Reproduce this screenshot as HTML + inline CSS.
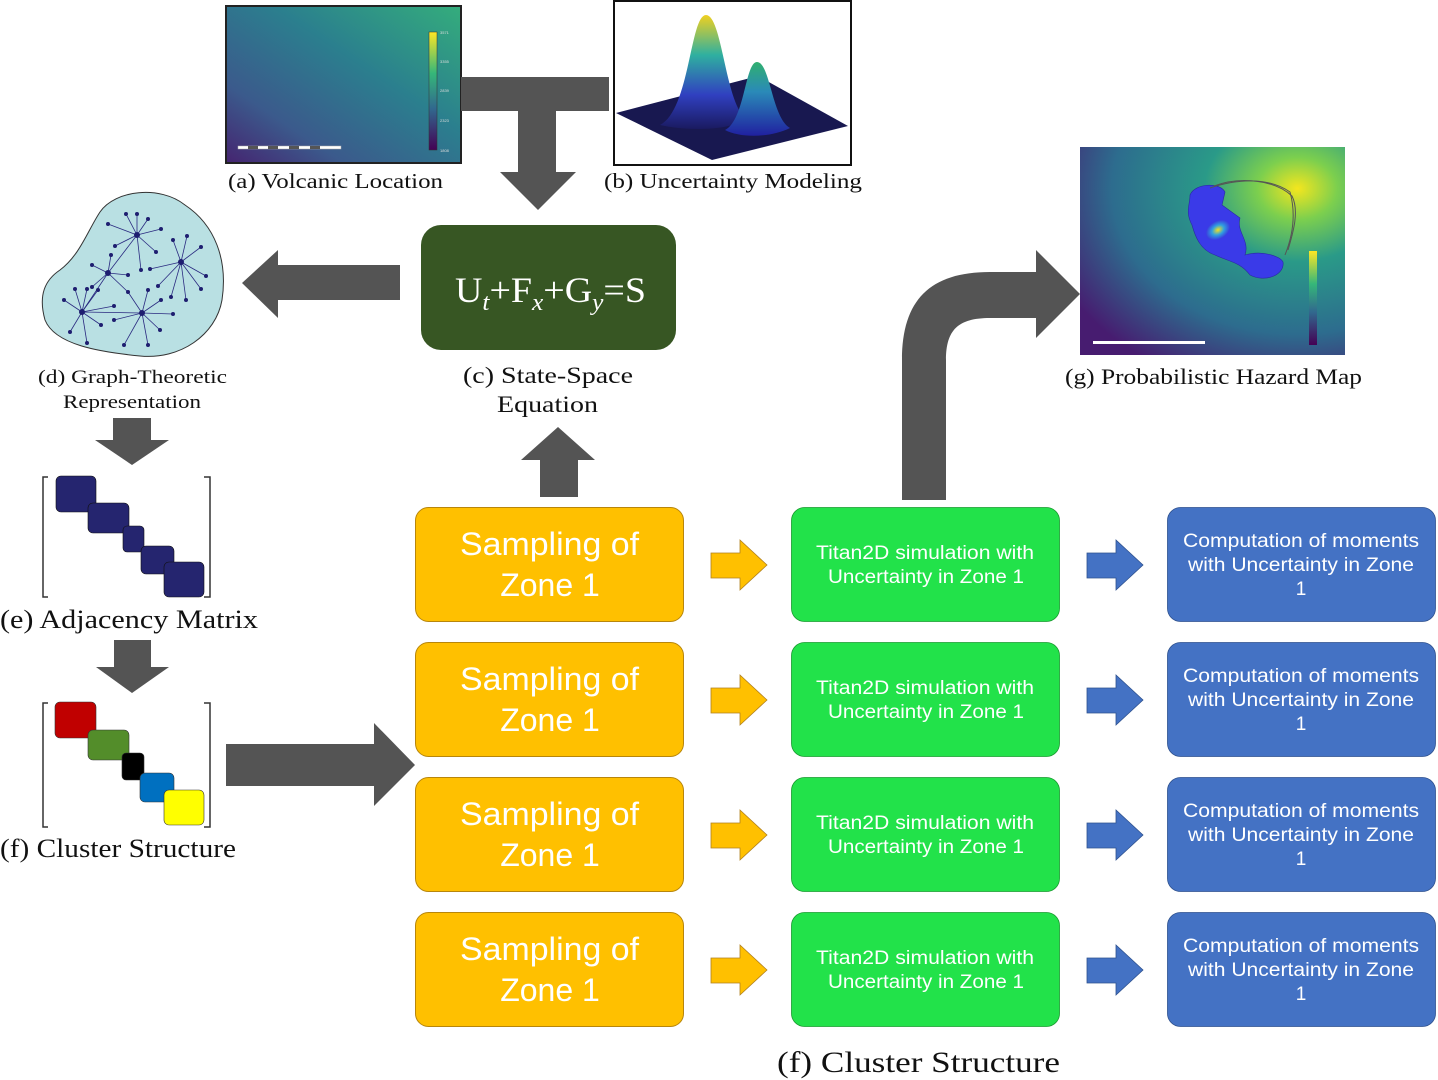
<!DOCTYPE html>
<html><head><meta charset="utf-8"><style>
html,body{margin:0;padding:0;background:#fff;width:1438px;height:1080px;overflow:hidden}
svg{display:block}
.cap{font-family:"Liberation Serif",serif;fill:#111}
.s{font-family:"Liberation Sans",sans-serif;fill:#fff}
</style></head><body>
<svg width="1438" height="1080" viewBox="0 0 1438 1080" xmlns="http://www.w3.org/2000/svg">
<defs>
<linearGradient id="ga" x1="0" y1="1" x2="1" y2="0">
<stop offset="0" stop-color="#452470"/><stop offset="0.25" stop-color="#3b5a8c"/><stop offset="0.6" stop-color="#2b7f8e"/><stop offset="1" stop-color="#34ad7c"/></linearGradient>
<linearGradient id="cb" x1="0" y1="0" x2="0" y2="1">
<stop offset="0" stop-color="#fde725"/><stop offset="0.35" stop-color="#35b779"/><stop offset="0.65" stop-color="#31688e"/><stop offset="1" stop-color="#440154"/></linearGradient>
<radialGradient id="gg" cx="0.82" cy="0.2" r="1">
<stop offset="0" stop-color="#f4e61e"/><stop offset="0.15" stop-color="#7ccf4e"/><stop offset="0.35" stop-color="#2a9a88"/><stop offset="0.7" stop-color="#2d6c8e"/><stop offset="1" stop-color="#471c70"/></radialGradient>
<linearGradient id="pk" x1="0" y1="0" x2="0" y2="1">
<stop offset="0" stop-color="#f0d020"/><stop offset="0.35" stop-color="#2fb0a0"/><stop offset="0.7" stop-color="#3040c0"/><stop offset="1" stop-color="#1a1a60"/></linearGradient>
<linearGradient id="pk2" x1="0" y1="0" x2="0" y2="1">
<stop offset="0" stop-color="#30b070"/><stop offset="0.4" stop-color="#2a8ab8"/><stop offset="1" stop-color="#2020a0"/></linearGradient>
<radialGradient id="hot" cx="0.5" cy="0.5" r="0.5">
<stop offset="0" stop-color="#f5e020"/><stop offset="0.5" stop-color="#30a0e0"/><stop offset="1" stop-color="#3a3ae0"/></radialGradient>
</defs>

<rect x="226" y="6" width="235" height="157" fill="url(#ga)" stroke="#222" stroke-width="2"/>
<rect x="429" y="32" width="8" height="118" fill="url(#cb)" stroke="#333" stroke-width="0.5"/>
<g fill="#ddd" font-size="4" font-family="Liberation Sans"><text x="440" y="34">3571</text><text x="440" y="63">3355</text><text x="440" y="92">2839</text><text x="440" y="122">2323</text><text x="440" y="152">1808</text></g>
<rect x="238" y="146" width="103" height="3" fill="#fff" stroke="#aaa" stroke-width="0.5"/>
<g fill="#555"><rect x="248" y="146" width="10" height="3"/><rect x="268" y="146" width="10" height="3"/><rect x="289" y="146" width="10" height="3"/><rect x="310" y="146" width="10" height="3"/></g>
<text class="cap" x="228" y="188" font-size="21" textLength="215" lengthAdjust="spacingAndGlyphs">(a) Volcanic Location</text>

<path d="M461 77 H609 V111 H556 V172 H576 L538 210 L500 172 H518 V111 H461 Z" fill="#545454"/>

<rect x="614" y="1" width="237" height="164" fill="#fff" stroke="#111" stroke-width="2"/>
<polygon points="616,113 712,160 848,126 758,76" fill="#181850"/>
<path d="M660 125 C690 110 690 15 706 15 C722 15 725 100 745 118 C735 130 690 132 660 125 Z" fill="url(#pk)"/>
<path d="M725 130 C745 120 745 62 757 62 C770 62 772 118 790 128 C770 138 740 138 725 130 Z" fill="url(#pk2)"/>
<text class="cap" x="604" y="188" font-size="21" textLength="258" lengthAdjust="spacingAndGlyphs">(b) Uncertainty Modeling</text>

<rect x="421" y="225" width="255" height="125" rx="20" fill="#375623"/>
<text x="455" y="302" font-size="36" fill="#fff" font-family="Liberation Serif,serif" textLength="191" lengthAdjust="spacingAndGlyphs">U<tspan font-style="italic" font-size="24" dy="8">t</tspan><tspan dy="-8">+F</tspan><tspan font-style="italic" font-size="24" dy="8">x</tspan><tspan dy="-8">+G</tspan><tspan font-style="italic" font-size="24" dy="8">y</tspan><tspan dy="-8">=S</tspan></text>
<text class="cap" x="463" y="383" font-size="23" textLength="170" lengthAdjust="spacingAndGlyphs">(c) State-Space</text>
<text class="cap" x="497" y="412" font-size="23" textLength="101" lengthAdjust="spacingAndGlyphs">Equation</text>

<path d="M400 265 V300 H278 V318 L242 283 L278 250 V265 Z" fill="#545454"/>

<path d="M100 212 C115 190 160 185 185 205 C215 225 228 260 222 300 C216 335 180 360 140 356 C100 352 55 345 45 320 C38 295 45 280 60 270 C80 255 88 230 100 212 Z" fill="#b9e0e3" stroke="#333" stroke-width="1"/>
<g stroke="#2a2a80" stroke-width="0.8" fill="none">
<path d="M137 235 L126 214 M137 235 L137 214 M137 235 L148 219 M137 235 L108 224 M137 235 L161 229 M137 235 L115 246 M137 235 L156 252 M137 235 L108 273 M137 235 L141 270"/>
<path d="M181 262 L173 240 M181 262 L187 236 M181 262 L201 247 M181 262 L206 276 M181 262 L201 289 M181 262 L186 300 M181 262 L171 297 M181 262 L150 269 M181 262 L158 286"/>
<path d="M108 273 L111 255 M108 273 L92 265 M108 273 L92 287 M108 273 L128 275 M108 273 L128 292 M108 273 L82 312"/>
<path d="M82 312 L75 289 M82 312 L87 289 M82 312 L64 300 M82 312 L98 290 M82 312 L70 332 M82 312 L87 343 M82 312 L101 325 M82 312 L114 306 M82 312 L142 313"/>
<path d="M142 313 L128 292 M142 313 L148 290 M142 313 L161 300 M142 313 L173 314 M142 313 L160 330 M142 313 L148 345 M142 313 L124 345 M142 313 L114 320"/>
</g>
<g fill="#1e1e70">
<circle cx="137" cy="235" r="3"/><circle cx="181" cy="262" r="3"/><circle cx="108" cy="273" r="3"/><circle cx="82" cy="312" r="3"/><circle cx="142" cy="313" r="3"/>
<circle cx="126" cy="214" r="2"/><circle cx="137" cy="214" r="2"/><circle cx="148" cy="219" r="2"/><circle cx="108" cy="224" r="2"/><circle cx="161" cy="229" r="2"/><circle cx="115" cy="246" r="2"/><circle cx="156" cy="252" r="2"/><circle cx="141" cy="270" r="2"/>
<circle cx="173" cy="240" r="2"/><circle cx="187" cy="236" r="2"/><circle cx="201" cy="247" r="2"/><circle cx="206" cy="276" r="2"/><circle cx="201" cy="289" r="2"/><circle cx="186" cy="300" r="2"/><circle cx="171" cy="297" r="2"/><circle cx="150" cy="269" r="2"/><circle cx="158" cy="286" r="2"/>
<circle cx="111" cy="255" r="2"/><circle cx="92" cy="265" r="2"/><circle cx="92" cy="287" r="2"/><circle cx="128" cy="275" r="2"/><circle cx="128" cy="292" r="2"/>
<circle cx="75" cy="289" r="2"/><circle cx="87" cy="289" r="2"/><circle cx="64" cy="300" r="2"/><circle cx="98" cy="290" r="2"/><circle cx="70" cy="332" r="2"/><circle cx="87" cy="343" r="2"/><circle cx="101" cy="325" r="2"/><circle cx="114" cy="306" r="2"/>
<circle cx="148" cy="290" r="2"/><circle cx="161" cy="300" r="2"/><circle cx="173" cy="314" r="2"/><circle cx="160" cy="330" r="2"/><circle cx="148" cy="345" r="2"/><circle cx="124" cy="345" r="2"/><circle cx="114" cy="320" r="2"/>
</g>
<text class="cap" x="38" y="383" font-size="19" textLength="189" lengthAdjust="spacingAndGlyphs">(d) Graph-Theoretic</text>
<text class="cap" x="63" y="408" font-size="19" textLength="138" lengthAdjust="spacingAndGlyphs">Representation</text>

<path d="M113 418 H151 V440 H169 L132 465 L95 440 H113 Z" fill="#545454"/>
<path d="M114 640 H151 V667 H169 L132 693 L96 667 H114 Z" fill="#545454"/>

<g fill="none" stroke="#333" stroke-width="1.5"><path d="M48 477 H43 V597 H48"/><path d="M204 477 H210 V597 H204"/><path d="M48 703 H43 V827 H48"/><path d="M204 703 H210 V827 H204"/></g>
<g fill="#25256f" stroke="#111" stroke-width="0.6">
<rect x="56" y="476" width="40" height="36" rx="5"/><rect x="88" y="503" width="41" height="30" rx="5"/><rect x="123" y="526" width="21" height="26" rx="4"/><rect x="141" y="546" width="33" height="28" rx="5"/><rect x="164" y="562" width="40" height="35" rx="5"/>
</g>
<text class="cap" x="0" y="628" font-size="26" textLength="258" lengthAdjust="spacingAndGlyphs">(e) Adjacency Matrix</text>

<g stroke="#333" stroke-width="0.6">
<rect x="55" y="702" width="41" height="36" rx="5" fill="#c00000"/>
<rect x="88" y="730" width="41" height="30" rx="5" fill="#538d2a"/>
<rect x="122" y="753" width="22" height="27" rx="4" fill="#000"/>
<rect x="140" y="773" width="34" height="29" rx="5" fill="#0070c0"/>
<rect x="164" y="790" width="40" height="35" rx="5" fill="#ffff00"/>
</g>
<text class="cap" x="0" y="857" font-size="26" textLength="236" lengthAdjust="spacingAndGlyphs">(f) Cluster Structure</text>

<path d="M226 744 H374 V723 L415 765 L374 806 V786 H226 Z" fill="#545454"/>
<path d="M540 497 V460 H521 L558 427 L595 460 H578 V497 Z" fill="#545454"/>
<path d="M902 500 V360 C902 300 930 272 990 272 H1036 V250 L1080 294 L1036 338 V318 H990 C958 318 946 330 946 360 V500 Z" fill="#545454"/>

<rect x="1080" y="147" width="265" height="208" fill="url(#gg)"/>
<g fill="#3a3ae8" stroke="#2a2aa0" stroke-width="0.6">
<path d="M1190 195 C1195 183 1220 182 1225 192 L1222 205 L1240 218 C1236 232 1250 240 1245 255 C1262 250 1280 256 1283 262 C1285 275 1265 283 1250 275 C1240 262 1230 262 1215 255 C1200 250 1195 236 1192 225 C1185 212 1190 205 1190 195 Z"/>
</g>
<ellipse cx="1218" cy="230" rx="13" ry="9" fill="url(#hot)" transform="rotate(-30 1218 230)"/>
<path d="M1210 188 C1240 178 1270 178 1290 192 C1295 210 1295 230 1285 255" fill="none" stroke="#555" stroke-width="1"/>
<path d="M1214 186 C1240 176 1275 180 1292 196 C1300 212 1292 236 1288 250" fill="none" stroke="#555" stroke-width="1"/>
<rect x="1309" y="251" width="8" height="94" fill="url(#cb)"/>
<rect x="1093" y="341" width="112" height="3" fill="#fff"/>
<text class="cap" x="1065" y="384" font-size="22" textLength="297" lengthAdjust="spacingAndGlyphs">(g) Probabilistic Hazard Map</text>

<g id="rows">
<rect x="415.5" y="507.5" width="268" height="114" rx="13" fill="#ffc000" stroke="#b8860b" stroke-width="1"/>
<text class="s" x="460" y="555" font-size="32" textLength="179" lengthAdjust="spacingAndGlyphs">Sampling of</text><text class="s" x="550" y="596" font-size="32" text-anchor="middle">Zone 1</text>
<path d="M711 553 H740 V540 L767 565 L740 590 V578 H711 Z" fill="#ffc000" stroke="#b08020" stroke-width="0.8"/>
<rect x="791.5" y="507.5" width="268" height="114" rx="13" fill="#22e24a" stroke="#1a9a30" stroke-width="0.8"/>
<text class="s" x="816" y="559" font-size="19" textLength="218" lengthAdjust="spacingAndGlyphs">Titan2D simulation with</text><text class="s" x="828" y="583" font-size="19" textLength="196" lengthAdjust="spacingAndGlyphs">Uncertainty in Zone 1</text>
<path d="M1087 553 H1116 V540 L1143 565 L1116 590 V578 H1087 Z" fill="#4472c4" stroke="#2f528f" stroke-width="0.8"/>
<rect x="1167.5" y="507.5" width="268" height="114" rx="13" fill="#4472c4" stroke="#2f528f" stroke-width="0.8"/>
<text class="s" x="1183" y="547" font-size="19" textLength="236" lengthAdjust="spacingAndGlyphs">Computation of moments</text><text class="s" x="1188" y="571" font-size="19" textLength="226" lengthAdjust="spacingAndGlyphs">with Uncertainty in Zone</text><text class="s" x="1301" y="595" font-size="19" text-anchor="middle">1</text>
</g>
<use href="#rows" y="135"/>
<use href="#rows" y="270"/>
<use href="#rows" y="405"/>

<text class="cap" x="777" y="1072" font-size="30" textLength="283" lengthAdjust="spacingAndGlyphs">(f) Cluster Structure</text>
</svg>
</body></html>
